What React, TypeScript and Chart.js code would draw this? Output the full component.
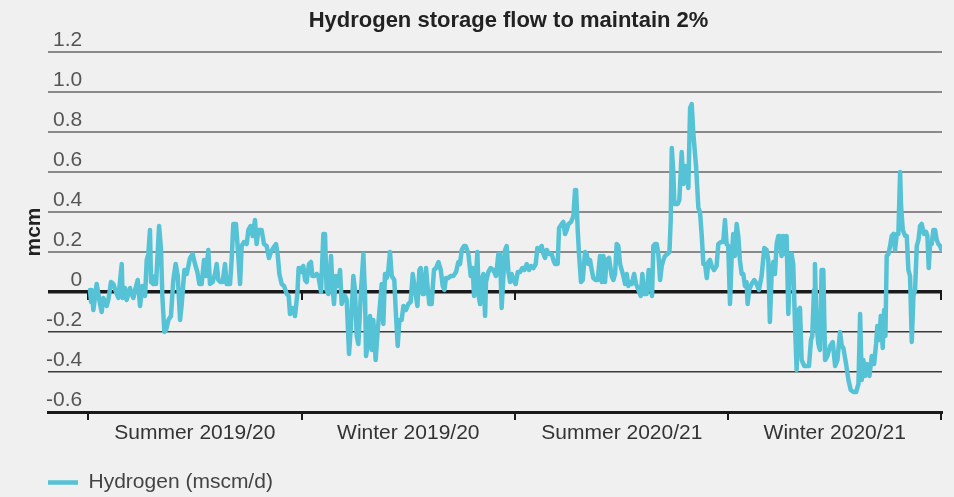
import React, { useEffect, useRef } from "react";
import { Chart, registerables } from "chart.js";

Chart.register(...registerables);

const FONT = "'Liberation Sans', Arial, Helvetica, sans-serif";

const TITLE = "Hydrogen storage flow to maintain 2%";
const Y_TITLE = "mcm";
const SERIES_LABEL = "Hydrogen (mscm/d)";
const SEASONS = ["Summer 2019/20", "Winter 2019/20", "Summer 2020/21", "Winter 2020/21"];
// season boundaries, in days since 1 April 2019
const SEASON_BOUNDARIES = [0, 183, 366, 549, 731];
const Y_MIN = -0.6;
const Y_MAX = 1.2;
const Y_STEP = 0.2;

// days since 1 April 2019
const DAYS = [
  1.7, 2.6, 3.1, 4.6, 7.4, 10.3, 11.7, 13.1, 16, 17.4, 19.7, 21.7, 24.6, 26, 28.9, 29.7, 31.7, 33.1, 36, 37.4,
  38.9, 40.3, 42.6, 44.6, 46.6, 48.9, 50.3, 51.7, 53.1, 54, 56, 57.4, 58.3, 60.9, 62.6, 63.7, 65.4, 66.9, 68.9, 71.1,
  73.1, 75.1, 76.9, 78.9, 80.3, 82.6, 84.6,
  87.4, 89.7, 91.7, 93.7, 95.4, 97.4, 99.4, 101.1, 103.1, 104.5, 106.8, 108.8, 110.3, 111.7, 113.7, 115.4, 117.4, 118.8, 121.7, 123.1,
  124.5, 126.8, 128.8, 130.3, 131.7, 133.7, 136, 137.4, 139.4, 141.1, 143.1, 144.5, 146, 148.8, 150.8, 153.1, 155.1, 156.8, 158.8, 161.1,
  162.5, 164, 166, 168, 170.3, 172, 173.1, 175.4, 177.4, 179.4, 180.5,
  181.7, 183.1, 184.5, 186, 187.4, 189.4, 191.1, 192.3, 194, 196, 197.4, 199.7, 201.7, 203.1, 204.5, 206, 208.3, 209.4, 210.8, 212.3,
  214, 216, 217.4, 218.8, 220.3, 221.7, 223.7, 225.4, 227.4, 228.8, 230.3, 231.7, 234, 236, 237.4, 238.3, 239.7, 241.7, 243.1, 244.5,
  246.5, 248.3, 250.3, 251.7, 253.1, 254.5, 256, 257.4, 258.8, 260.3, 262.5, 263.7, 265.4, 266.8,
  268.8, 270.3, 272.5, 274.5, 276.5, 278.3, 280.3, 282.3, 284, 285.1, 286.8, 288, 289.7, 290.8, 292.5, 294.5, 296.5, 298.3, 300.3, 302.3,
  304, 305.4, 306.8, 308.8, 310.8, 313.1, 315.4, 317.4, 318.8, 320.3, 322.3, 323.7, 326, 328, 329.7, 330.8, 332.5, 333.7, 334.8, 336,
  337.4, 338.8, 340.3, 341.1, 343.1, 345.1, 347.4, 349.7, 351.7, 353.1, 354.5, 356, 357.4, 358.8,
  360.3, 361.7, 363.1, 364.5, 366.5, 368.3, 370.3, 372.3, 374, 376, 378, 379.7, 381.7, 383.7, 385.1, 386.8, 388.8, 390.3, 391.7, 393.1,
  395.1, 397.4, 398.8, 400.3, 402.5, 403.7, 406, 407.4, 408.8, 410.3, 411.7, 414, 416, 417.4, 418.3, 419.7, 420.8, 422.5, 424, 426,
  427.4, 428.8, 430.3, 431.7, 433.1, 435.1, 436.8, 438.8, 440.3, 441.7, 443.1, 444.5, 446.5,
  448.8, 450.3, 451.7, 453.1, 454.5, 456, 457.4, 458.8, 460.3, 461.7, 463.1, 464.5, 466, 468, 469.7, 471.7, 473.7, 475.1, 476.5, 478.8,
  480.5, 482.3, 483.4, 484.5, 486, 487.4, 488.8, 490.3, 491.7, 493.1, 494.5, 496.5, 498.3, 499.4, 500.3, 501.7, 502.5, 504, 505.4, 506.8,
  508.8, 510.3, 511.7, 513.1, 514.5, 516, 517.4, 518.8, 521.1, 523.1, 524.5, 526, 527.4, 528.8, 530.3, 531.7, 533.1, 534.5, 536.5,
  538.7, 540.2, 542.4, 544.4, 545.9, 547.3, 548.7, 550.2, 551.6, 553, 554.4, 555.9, 557.3, 558.7, 560.2, 561.6, 563, 564.4, 565.3, 566.7,
  568.7, 571, 573, 575, 577.3, 579.6, 581.6, 583, 584.4, 585.9, 587.3, 588.7, 590.2, 591.6, 593, 594.4, 595.9, 597.3, 598.7, 600.2,
  601.6, 603, 604.4, 605.9, 607.3, 608.7, 610.2, 611.6, 613.9, 615.9, 617.9, 619.6, 620.7, 622.2, 623, 624.4, 625.9, 627.3, 628.7, 630.2,
  631.7, 633.7, 636, 638.3, 640.3, 642.3, 644.5, 646, 647.4, 649.7, 651.7, 653.7, 656, 658.3, 660.3, 661.7, 663.1, 664.5, 666, 667.4,
  669.7, 671.7, 673.7, 675.4, 676.5, 678.3, 679.4, 681.1, 682.3, 683.4, 684.5, 686, 687.4, 688.8, 690.3, 691.7, 693.1, 694.5, 696, 696.8,
  698.3, 700.3, 701.7, 703.1, 704.5, 706, 707.4, 708.8, 710.3, 711.7, 713.1, 714.5, 716.5, 718.3, 719.4, 720.5, 721.7, 723.1, 724.5, 726,
  727.4, 728.8, 730.3, 731.5,
];

// hydrogen storage flow (mcm)
const VALUES = [
  0.01, -0.05, 0.01, -0.09, 0.04, -0.06, -0.1, -0.03, -0.07, -0.04, 0.05, 0.04, -0.01, -0.03, 0.14, -0.03, 0.02, -0.04, 0.02, -0.01,
  -0.03, 0.01, 0.06, -0.07, 0.03, -0.02, 0.16, 0.19, 0.31, 0.05, 0.04, 0.08, 0.04, 0.33, 0.21, -0.02, -0.2, -0.19, -0.14, -0.12,
  0.06, 0.14, 0.08, -0.14, -0.06, 0.11, 0.09,
  0.17, 0.19, 0.14, 0.1, 0.04, 0.04, 0.16, 0.08, 0.21, 0.04, 0.05, 0.09, 0.14, 0.06, 0.05, 0.05, 0.14, 0.04, 0.04, 0.16,
  0.34, 0.34, 0.18, 0.04, 0.23, 0.25, 0.24, 0.31, 0.33, 0.28, 0.36, 0.24, 0.31, 0.31, 0.24, 0.23, 0.17, 0.2, 0.22, 0.24,
  0.19, 0.09, 0.04, 0.03, -0.01, -0.02, -0.11, -0.08, -0.12, -0.01, 0.12,
  0.12, 0.1, 0.13, 0.06, 0.05, 0.14, 0.15, 0.08, 0.08, 0.09, 0.08, 0.0, 0.29, 0.29, 0.01, -0.01, 0.18, 0.04, -0.06, 0.08,
  0.03, 0.11, -0.06, -0.03, -0.02, -0.04, -0.31, -0.16, 0.08, 0.01, -0.22, -0.26, 0.01, 0.19, -0.02, -0.32, -0.26, -0.12, -0.29, -0.14,
  -0.34, -0.19, -0.06, 0.04, -0.16, 0.09, 0.07, 0.11, 0.2, 0.08, 0.06, -0.09, -0.27, -0.14,
  -0.14, -0.07, -0.09, -0.06, -0.05, 0.09, 0.01, -0.07, 0.11, 0.12, -0.01, -0.01, 0.12, 0.04, -0.06, -0.06, 0.11, 0.12, 0.15, 0.11,
  0.03, 0.01, 0.07, 0.07, 0.08, 0.08, 0.1, 0.15, 0.14, 0.21, 0.23, 0.23, 0.19, 0.08, 0.12, -0.02, 0.08, 0.2, -0.02, -0.06,
  0.06, 0.09, -0.12, 0.05, 0.1, 0.12, 0.11, 0.08, 0.19, 0.19, -0.08, 0.08, 0.21, 0.23,
  0.1, 0.05, 0.09, 0.06, 0.04, 0.1, 0.1, 0.12, 0.11, 0.14, 0.11, 0.13, 0.12, 0.14, 0.22, 0.21, 0.23, 0.19, 0.17, 0.21,
  0.19, 0.19, 0.16, 0.14, 0.14, 0.32, 0.34, 0.35, 0.29, 0.31, 0.34, 0.35, 0.38, 0.51, 0.51, 0.31, 0.19, 0.05, 0.06, 0.2,
  0.19, 0.14, 0.16, 0.11, 0.07, 0.06, 0.06, 0.18, 0.05, 0.18, 0.05, 0.16, 0.17,
  0.08, 0.06, 0.09, 0.24, 0.23, 0.14, 0.11, 0.08, 0.04, 0.09, 0.03, 0.05, 0.04, 0.09, 0.04, 0.01, -0.02, 0.09, -0.01, -0.01,
  0.11, 0.03, -0.02, 0.23, 0.24, 0.24, 0.19, 0.06, 0.13, 0.16, 0.18, 0.19, 0.2, 0.36, 0.72, 0.59, 0.44, 0.44, 0.44, 0.46,
  0.7, 0.54, 0.63, 0.61, 0.52, 0.92, 0.94, 0.79, 0.63, 0.42, 0.4, 0.28, 0.14, 0.14, 0.07, 0.15, 0.16, 0.13, 0.11,
  0.13, 0.24, 0.25, 0.25, 0.36, 0.24, 0.23, -0.06, 0.17, 0.29, 0.18, 0.34, 0.28, 0.16, 0.09, 0.09, 0.03, 0.05, -0.06, 0.01,
  0.04, 0.06, 0.04, 0.01, 0.08, 0.22, 0.21, 0.16, -0.15, 0.09, 0.15, 0.09, 0.24, 0.28, 0.28, 0.18, 0.28, 0.19, 0.28, -0.11,
  0.16, 0.19, 0.14, -0.16, -0.39, -0.09, -0.08, -0.34, -0.37, -0.37, -0.37, -0.24, -0.22, 0.01, 0.14, -0.16, -0.26, -0.29, 0.11, 0.11,
  -0.34, -0.32, -0.27, -0.25, -0.37, -0.34, -0.2, -0.27, -0.28, -0.36, -0.44, -0.49, -0.5, -0.5, -0.46, -0.11, -0.44, -0.34, -0.42, -0.36,
  -0.42, -0.32, -0.36, -0.26, -0.17, -0.24, -0.12, -0.28, -0.09, -0.22, 0.18, 0.19, 0.23, 0.28, 0.29, 0.21, 0.29, 0.29, 0.6, 0.43,
  0.31, 0.28, 0.28, 0.11, 0.08, -0.25, -0.02, 0.01, 0.23, 0.26, 0.33, 0.34, 0.29, 0.3, 0.28, 0.12, 0.24, 0.24, 0.31, 0.31,
  0.26, 0.24, 0.23, 0.21,
];

const LINE_COLOR = "#56c2d6";

const isZero = (v: number) => Math.abs(v) < 1e-9;

const zeroLineTicks = {
  id: "zeroLineTicks",
  beforeDatasetsDraw(chart: any) {
    const { ctx } = chart;
    const x = chart.scales.x;
    const y0 = chart.scales.y.getPixelForValue(0);
    ctx.save();
    ctx.strokeStyle = "#1a1a1a";
    ctx.lineWidth = 2;
    ctx.beginPath();
    SEASON_BOUNDARIES.forEach((b) => {
      const px = Math.round(x.getPixelForValue(b));
      ctx.moveTo(px, y0);
      ctx.lineTo(px, y0 + 8);
    });
    ctx.stroke();
    ctx.restore();
  },
};

const titlePlugin = {
  id: "centredTitle",
  afterDraw(chart: any) {
    const { ctx, chartArea } = chart;
    const x = chart.scales.x;
    const cx =
      (x.getPixelForValue(SEASON_BOUNDARIES[0]) +
        x.getPixelForValue(SEASON_BOUNDARIES[SEASON_BOUNDARIES.length - 1])) /
        2 -
      6;
    ctx.save();
    ctx.font = `bold 22px ${FONT}`;
    ctx.fillStyle = "#222222";
    ctx.textAlign = "center";
    ctx.textBaseline = "alphabetic";
    ctx.fillText(TITLE, cx, chartArea.top - 25);
    ctx.restore();
  },
};

export default function App() {
  const ref = useRef<HTMLCanvasElement>(null);

  useEffect(() => {
    document.body.style.margin = "0";
    document.body.style.background = "#f0f0f0";
    const canvas = ref.current;
    if (!canvas) return;

    const seasonMids = SEASONS.map((_, i) => (SEASON_BOUNDARIES[i] + SEASON_BOUNDARIES[i + 1]) / 2);
    const data = DAYS.map((d, i) => ({ x: d, y: VALUES[i] }));

    const chart = new Chart(canvas, {
      type: "line",
      data: {
        datasets: [
          {
            label: SERIES_LABEL,
            data,
            borderColor: LINE_COLOR,
            backgroundColor: LINE_COLOR,
            borderWidth: 4.5,
            pointRadius: 0,
            tension: 0,
            borderJoinStyle: "round",
            borderCapStyle: "round",
            fill: false,
          },
        ],
      },
      options: {
        responsive: false,
        animation: false,
        devicePixelRatio: 1,
        events: [],
        layout: { padding: { left: 38, right: 12, top: 52, bottom: -6 } },
        scales: {
          x: {
            type: "linear",
            min: -34.3,
            max: 731.9,
            afterBuildTicks: (s: any) => {
              s.ticks = seasonMids.map((v) => ({ value: v }));
            },
            afterFit: (s: any) => {
              s.height = 50;
            },
            grid: {
              offset: true,
              drawOnChartArea: false,
              drawTicks: true,
              tickLength: 8,
              color: "#1a1a1a",
              lineWidth: 2,
            },
            border: { display: true, color: "#1a1a1a", width: 3 },
            ticks: {
              autoSkip: false,
              maxRotation: 0,
              minRotation: 0,
              padding: 1,
              color: "#333333",
              font: { family: FONT, size: 21 },
              callback: (_v: any, i: number) => SEASONS[i] ?? "",
            },
          },
          y: {
            min: Y_MIN,
            max: Y_MAX,
            afterFit: (s: any) => {
              s.width = 10;
            },
            border: { display: false },
            grid: {
              drawTicks: false,
              color: (c: any) => {
                const v = c.tick ? c.tick.value : 0;
                if (isZero(v) || v < Y_MIN + 1e-6) return "#1a1a1a";
                return v > 0 ? "#8a8a8a" : "#3a3a3a";
              },
              lineWidth: (c: any) => {
                const v = c.tick ? c.tick.value : 0;
                if (isZero(v)) return 3.5;
                if (v < Y_MIN + 1e-6) return 3;
                return v > 0 ? 2 : 1.5;
              },
            },
            ticks: {
              stepSize: Y_STEP,
              autoSkip: false,
              mirror: true,
              crossAlign: "far",
              padding: -2,
              labelOffset: -12,
              color: "#555555",
              font: { family: FONT, size: 21 },
              callback: (v: any) => (isZero(Number(v)) ? "0" : Number(v).toFixed(1)),
            },
            title: {
              display: true,
              text: Y_TITLE,
              color: "#222222",
              font: { family: FONT, size: 21, weight: "bold" },
              padding: { top: -16.6, bottom: 0 },
            },
          },
        },
        plugins: {
          title: { display: false },
          tooltip: { enabled: false },
          legend: {
            display: true,
            position: "bottom",
            align: "start",
            labels: {
              usePointStyle: true,
              pointStyle: "line",
              pointStyleWidth: 30,
              padding: 10,
              color: "#444444",
              font: { family: FONT, size: 21 },
            },
          },
        },
      } as any,
      plugins: [zeroLineTicks, titlePlugin],
    });

    return () => chart.destroy();
  }, []);

  return (
    <div style={{ width: 954, height: 497, background: "#f0f0f0" }}>
      <canvas ref={ref} width={954} height={497} style={{ display: "block" }} />
    </div>
  );
}
